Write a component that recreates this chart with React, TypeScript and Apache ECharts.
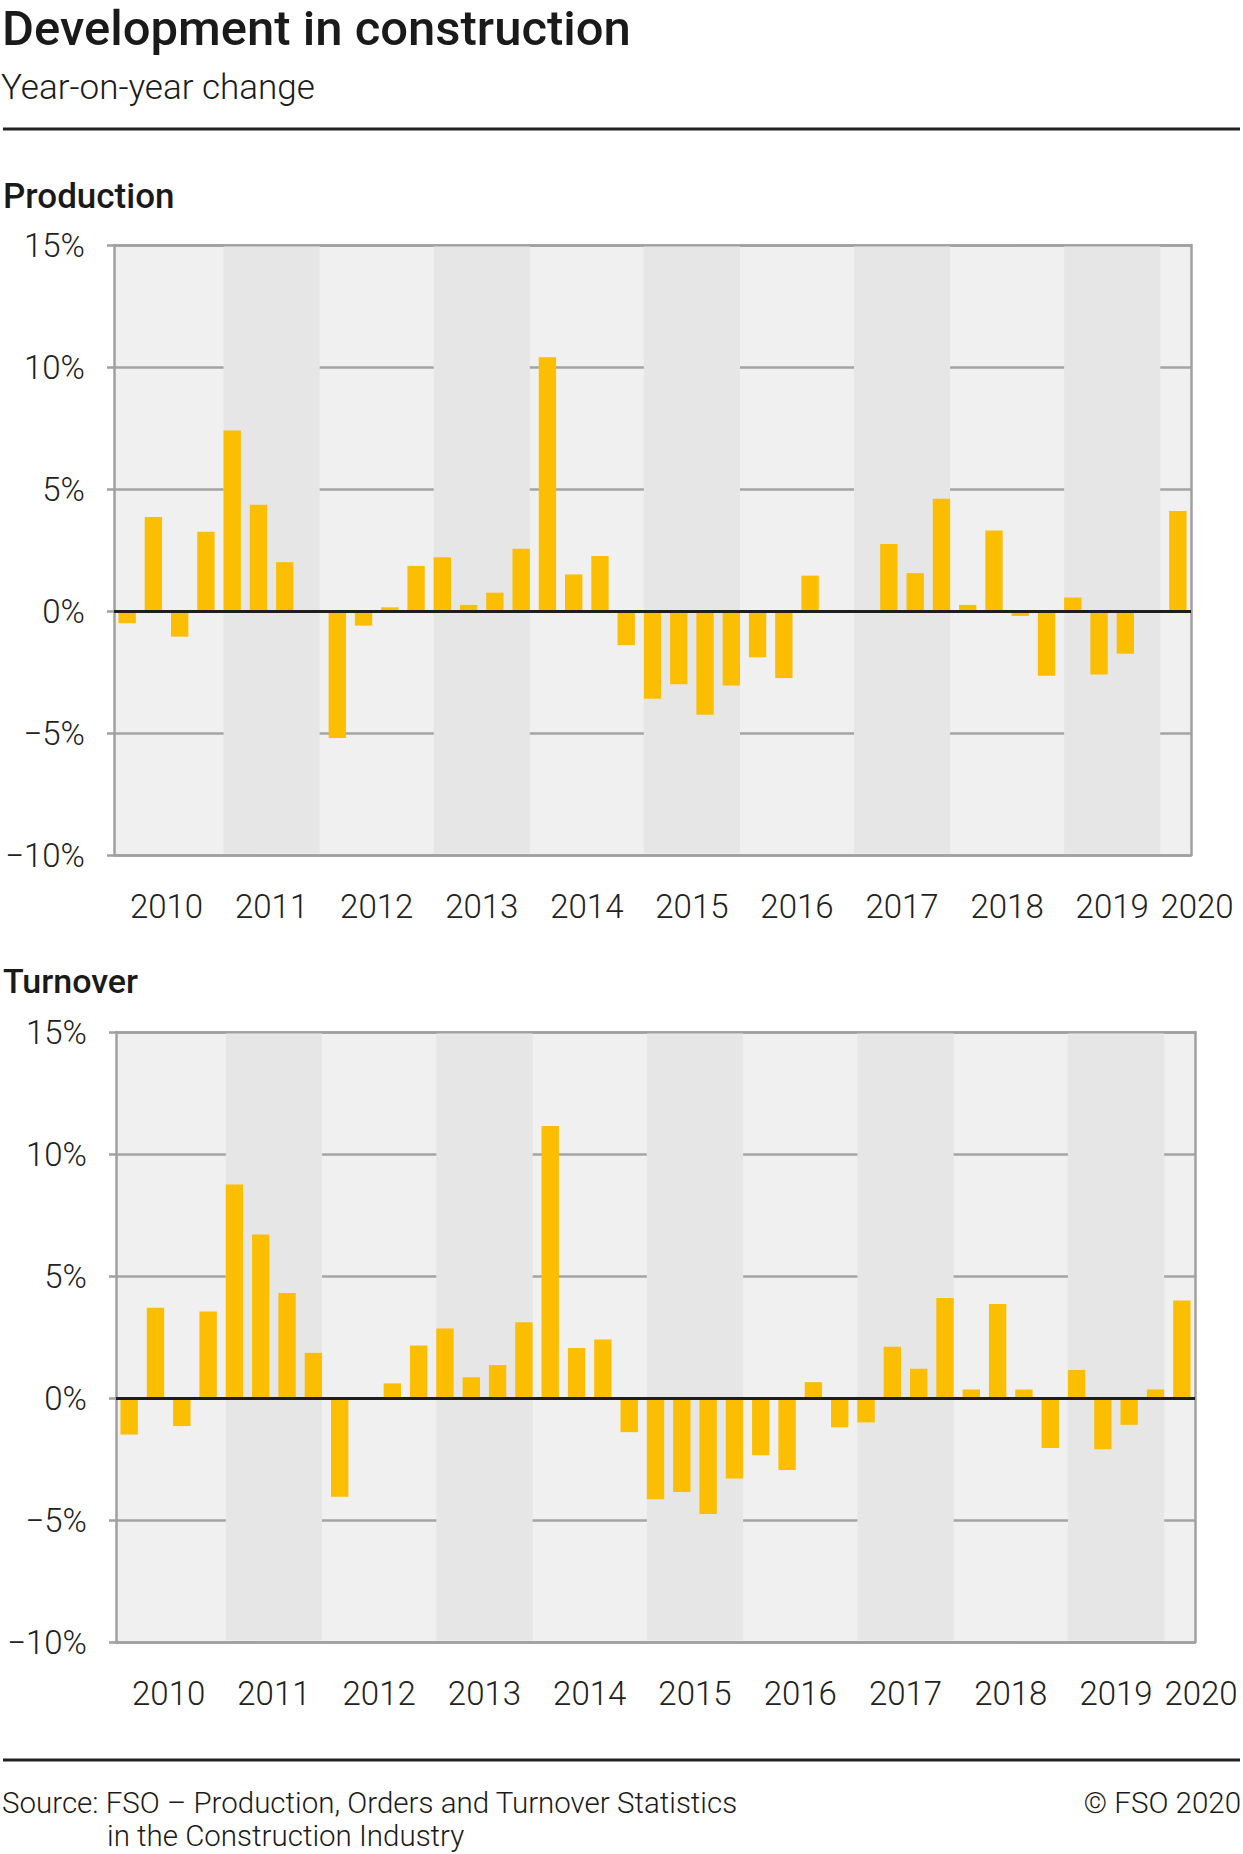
import React, { useEffect, useRef } from "react";
import * as echarts from "echarts";

// ---------- data ----------
const QUARTER_YEARS = ["2010", "2011", "2012", "2013", "2014", "2015", "2016", "2017", "2018", "2019"];
const QUARTER_NAMES = ["Q1", "Q2", "Q3", "Q4"];
const QUARTERS: string[] = [];
QUARTER_YEARS.forEach((y) => QUARTER_NAMES.forEach((q) => QUARTERS.push(y + " " + q)));
QUARTERS.push("2020 Q1");

const PRODUCTION = [
  -0.5, 3.85, -1.05, 3.25,
  7.4, 4.35, 2.0, 0,
  -5.2, -0.6, 0.15, 1.85,
  2.2, 0.25, 0.75, 2.55,
  10.4, 1.5, 2.25, -1.4,
  -3.6, -3.0, -4.25, -3.05,
  -1.9, -2.75, 1.45, 0,
  0, 2.75, 1.55, 4.6,
  0.25, 3.3, -0.2, -2.65,
  0.55, -2.6, -1.75, 0,
  4.1,
];

const TURNOVER = [
  -1.5, 3.7, -1.15, 3.55,
  8.75, 6.7, 4.3, 1.85,
  -4.05, 0, 0.6, 2.15,
  2.85, 0.85, 1.35, 3.1,
  11.15, 2.05, 2.4, -1.4,
  -4.15, -3.85, -4.75, -3.3,
  -2.35, -2.95, 0.65, -1.2,
  -1.0, 2.1, 1.2, 4.1,
  0.35, 3.85, 0.35, -2.05,
  1.15, -2.1, -1.1, 0.35,
  4.0,
];

const YEAR_LABELS = ["2010", "2011", "2012", "2013", "2014", "2015", "2016", "2017", "2018", "2019", "2020"];
const DARK_YEARS = ["2011", "2013", "2015", "2017", "2019"];
const Y_MIN = -10;
const Y_MAX = 15;
const Y_STEP = 5;

// ---------- styles ----------
const FONT = "Roboto, 'Noto Sans', sans-serif";
const BAR_COLOR = "#fbbe00";
const LIGHT_BG = "#f0f0f0";
const DARK_BG = "#e6e6e6";
const GRID_LINE = "#a4a4a4";
const FRAME = "#a0a0a0";
const TEXT = "#222222";
const BAR_FRAC = 0.66;
const TICK_SIZE = 33;

// half-slot label axis: label for year k at 8k+4, last label at the right edge
const YEAR_SLOTS: string[] = new Array(QUARTERS.length * 2 + 1).fill("");
YEAR_LABELS.forEach((y, k) => {
  if (k < YEAR_LABELS.length - 1) YEAR_SLOTS[8 * k + 4] = y;
  else YEAR_SLOTS[YEAR_SLOTS.length - 1] = y;
});

const BANDS = DARK_YEARS.map((y) => {
  const s = QUARTERS.indexOf(y + " Q1");
  return [s, s + 3];
});

const fmtPct = (v: number) => (v < 0 ? "\u2212" + Math.abs(v) + "%" : v + "%");

function buildPanel(gi: number, values: number[], labelMargin: number) {
  const xBase = gi * 3;
  const yBase = gi * 2;
  const xAxes = [
    {
      type: "category",
      gridIndex: gi,
      data: QUARTERS,
      position: "bottom",
      axisLine: { show: true, onZero: false, lineStyle: { color: FRAME, width: 2.5 } },
      axisTick: { show: false },
      axisLabel: { show: false },
      splitLine: { show: false },
    },
    {
      type: "category",
      gridIndex: gi,
      data: YEAR_SLOTS,
      boundaryGap: false,
      position: "bottom",
      axisLine: { show: false, onZero: false },
      axisTick: { show: false },
      splitLine: { show: false },
      axisLabel: {
        show: true,
        interval: (_i: number, v: string) => v !== "",
        margin: labelMargin,
        fontFamily: FONT,
        fontWeight: 300,
        fontSize: TICK_SIZE,
        color: TEXT,
        formatter: (v: string) => (v === YEAR_LABELS[YEAR_LABELS.length - 1] ? "{e|" + v + "}" : v),
        rich: { e: { padding: [0, 0, 0, 12], fontFamily: FONT, fontWeight: 300, fontSize: TICK_SIZE, color: TEXT } },
      },
    },
    {
      type: "category",
      gridIndex: gi,
      data: QUARTERS,
      position: "top",
      axisLine: { show: true, onZero: false, lineStyle: { color: FRAME, width: 2.5 } },
      axisTick: { show: false },
      axisLabel: { show: false },
      splitLine: { show: false },
    },
  ];
  const yAxes = [
    {
      type: "value",
      gridIndex: gi,
      min: Y_MIN,
      max: Y_MAX,
      interval: Y_STEP,
      position: "left",
      axisLine: { show: true, lineStyle: { color: FRAME, width: 2.5 } },
      axisTick: { show: true, length: 7, lineStyle: { color: FRAME, width: 2.5 } },
      axisLabel: {
        margin: 29,
        fontFamily: FONT,
        fontWeight: 300,
        fontSize: TICK_SIZE,
        color: TEXT,
        formatter: fmtPct,
      },
      splitLine: { show: true, lineStyle: { color: GRID_LINE, width: 2.5 } },
    },
    {
      type: "value",
      gridIndex: gi,
      min: Y_MIN,
      max: Y_MAX,
      interval: Y_STEP,
      position: "right",
      axisLine: { show: true, lineStyle: { color: FRAME, width: 2.5 } },
      axisTick: { show: false },
      axisLabel: { show: false },
      splitLine: { show: false },
    },
  ];
  const series = [
    {
      type: "custom",
      xAxisIndex: xBase,
      yAxisIndex: yBase,
      silent: true,
      data: BANDS,
      encode: { x: 0, y: 1 },
      renderItem: (_p: any, api: any) => {
        const s = api.value(0);
        const e = api.value(1);
        const top = api.coord([s, Y_MAX]);
        const bot = api.coord([e, Y_MIN]);
        const w = api.size([1, 0])[0];
        const half = (w * BAR_FRAC) / 2;
        const x0 = top[0] - half;
        const x1 = bot[0] + half;
        return {
          type: "rect",
          shape: { x: x0, y: top[1] + 1.5, width: x1 - x0, height: bot[1] - top[1] - 3 },
          style: { fill: DARK_BG },
        };
      },
    },
    {
      type: "bar",
      xAxisIndex: xBase,
      yAxisIndex: yBase,
      data: values,
      barWidth: BAR_FRAC * 100 + "%",
      itemStyle: { color: BAR_COLOR },
      silent: true,
      markLine: {
        silent: true,
        symbol: "none",
        label: { show: false },
        lineStyle: { color: "#1e1e1e", width: 3, type: "solid" },
        data: [{ yAxis: 0 }],
      },
    },
  ];
  return { xAxes, yAxes, series };
}

export default function App() {
  const ref = useRef<HTMLDivElement>(null);
  useEffect(() => {
    if (!ref.current) return;
    const chart = echarts.init(ref.current, null, { renderer: "svg" });
    const p1 = buildPanel(0, PRODUCTION, 35);
    const p2 = buildPanel(1, TURNOVER, 35);
    const txt = (text: string, x: number, y: number, size: number, weight: number, align = "left") => ({
      type: "text",
      x,
      y,
      silent: true,
      style: {
        text,
        fontFamily: FONT,
        fontSize: size,
        fontWeight: weight,
        fill: "#1a1a1a",
        align,
        verticalAlign: "middle",
      },
    });
    chart.setOption({
      animation: false,
      backgroundColor: "#ffffff",
      grid: [
        { left: 114, top: 245, width: 1077, height: 610, show: true, backgroundColor: LIGHT_BG, borderWidth: 0 },
        { left: 116, top: 1032, width: 1079, height: 610, show: true, backgroundColor: LIGHT_BG, borderWidth: 0 },
      ],
      xAxis: [...p1.xAxes, ...p2.xAxes],
      yAxis: [...p1.yAxes, ...p2.yAxes],
      series: [...p1.series, ...p2.series],
      graphic: [
        txt("Development in construction", 2, 28, 49, 500),
        txt("Year-on-year change", 1, 87, 35, 300),
        { type: "line", silent: true, shape: { x1: 3, y1: 129, x2: 1240, y2: 129 }, style: { stroke: "#222", lineWidth: 3 } },
        txt("Production", 3, 196, 35, 500),
        txt("Turnover", 3, 981, 34, 500),
        { type: "line", silent: true, shape: { x1: 3, y1: 1760, x2: 1240, y2: 1760 }, style: { stroke: "#222", lineWidth: 3 } },
        txt("Source: FSO \u2013 Production, Orders and Turnover Statistics", 2, 1803, 29.5, 300),
        txt("in the Construction Industry", 107, 1836, 29.5, 300),
        txt("\u00a9 FSO 2020", 1241, 1803, 29.5, 300, "right"),
      ],
    });
    return () => chart.dispose();
  }, []);
  return (
    <div
      ref={ref}
      style={{ position: "absolute", left: 0, top: 0, width: 1243, height: 1854, background: "#fff" }}
    />
  );
}
